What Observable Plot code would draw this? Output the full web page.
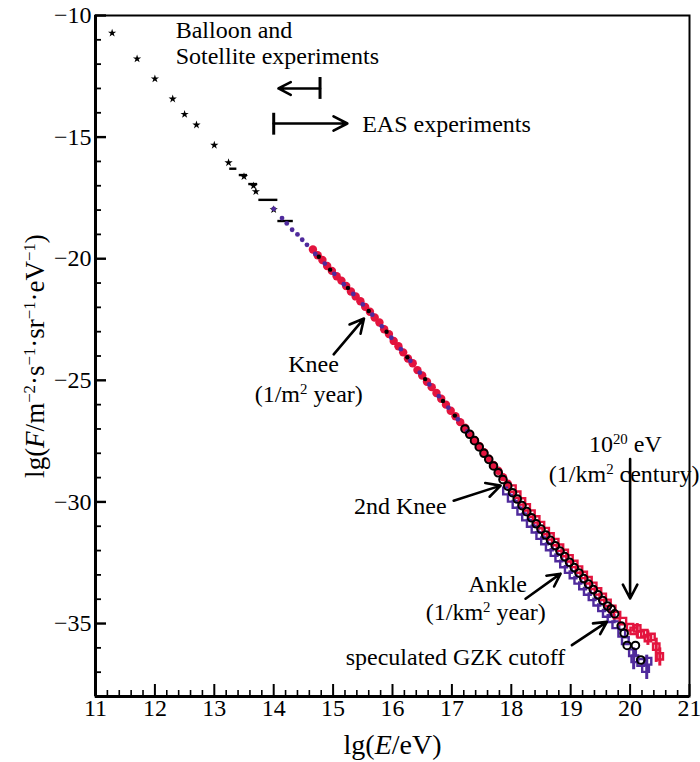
<!DOCTYPE html>
<html><head><meta charset="utf-8">
<script src="https://cdn.jsdelivr.net/npm/d3@7"></script>
<script src="https://cdn.jsdelivr.net/npm/@observablehq/plot@0.6"></script>
<style>body{margin:0;background:#fff}#chart svg{display:block}</style>
</head><body><div id="chart"></div>
<script>
// ---- axes ----
const xDomain = [11, 21];
const yDomain = [-38, -10];
const xMajor = [11, 12, 13, 14, 15, 16, 17, 18, 19, 20, 21];
const xMinor = [11.2,11.4,11.6,11.8,12.2,12.4,12.6,12.8,13.2,13.4,13.6,13.8,14.2,14.4,14.6,14.8,15.2,15.4,15.6,15.8,16.2,16.4,16.6,16.8,17.2,17.4,17.6,17.8,18.2,18.4,18.6,18.8,19.2,19.4,19.6,19.8,20.2,20.4,20.6,20.8];
const yMajor = [-10, -15, -20, -25, -30, -35];
const yMinor = [-11,-12,-13,-14,-16,-17,-18,-19,-21,-22,-23,-24,-26,-27,-28,-29,-31,-32,-33,-34,-36,-37];

// ---- low energy (balloon / satellite) black stars ----
const starX = [11.28, 11.70, 12.00, 12.30, 12.50, 12.70, 13.00, 13.24, 13.50, 13.66, 13.70, 14.00];
const starY = [-10.72, -11.78, -12.60, -13.43, -14.06, -14.50, -15.33, -16.05, -16.62, -17.00, -17.24, -17.98];

// horizontal black bars
const barX1 = [13.26, 13.42, 13.58, 13.75, 14.07];
const barX2 = [13.38, 13.56, 13.73, 14.07, 14.33];
const barY  = [-16.30, -16.56, -16.93, -17.58, -18.45];

// ---- red dots (knee region) ----
const redDotX = [14.66,14.74,14.82,14.90,14.98,15.06,15.14,15.22,15.30,15.38,15.46,15.54,15.62,15.70,15.78,15.86,15.94,16.02,16.10,16.18,16.26,16.34,16.42,16.50,16.58,16.66,16.74,16.82,16.90,16.98,17.06,17.14,17.22,17.30,17.38,17.46,17.54,17.62,17.70,17.78,17.86,17.94];
const redDotY = [-19.62,-19.86,-20.05,-20.30,-20.50,-20.72,-20.90,-21.12,-21.35,-21.55,-21.75,-21.98,-22.18,-22.42,-22.62,-22.90,-23.10,-23.38,-23.60,-23.85,-24.10,-24.30,-24.58,-24.80,-25.06,-25.28,-25.52,-25.76,-26.00,-26.25,-26.48,-26.72,-26.95,-27.20,-27.45,-27.70,-27.96,-28.22,-28.48,-28.72,-28.98,-29.25];

// ---- red squares (ankle region and beyond) ----
const redSqX = [18.02,18.10,18.18,18.26,18.34,18.42,18.50,18.58,18.66,18.74,18.82,18.90,18.98,19.06,19.14,19.22,19.30,19.38,19.46,19.54,19.62,19.70,19.78,19.88,20.00,20.06,20.12,20.18,20.24,20.30,20.36,20.44,20.50];
const redSqY = [-29.45,-29.70,-29.98,-30.22,-30.48,-30.72,-30.95,-31.20,-31.42,-31.65,-31.88,-32.10,-32.32,-32.55,-32.78,-33.00,-33.22,-33.45,-33.68,-33.90,-34.15,-34.40,-34.65,-34.90,-35.15,-35.30,-35.20,-35.45,-35.40,-35.60,-35.55,-35.95,-36.35];
const redErrX  = [20.12, 20.30, 20.44, 20.50];
const redErrLo = [-35.60, -35.90, -36.60, -36.75];
const redErrHi = [-35.00, -35.30, -35.60, -36.00];

// ---- purple dots (knee region) ----
const purDotX = [14.00,14.14,14.22,14.31,14.40,14.48,14.56,14.70,14.86,15.02,15.18,15.34,15.50,15.66,15.82,15.98,16.14,16.30,16.46,16.62,16.78,16.94,17.10,17.26];
const purDotY = [-17.95,-18.33,-18.55,-18.81,-19.00,-19.22,-19.43,-19.80,-20.20,-20.62,-21.05,-21.45,-21.88,-22.30,-22.78,-23.25,-23.72,-24.20,-24.68,-25.17,-25.65,-26.12,-26.60,-27.10];

// ---- purple squares ----
const purSqX = [17.92,18.00,18.08,18.16,18.24,18.32,18.40,18.48,18.56,18.64,18.72,18.80,18.88,18.96,19.04,19.12,19.20,19.28,19.36,19.44,19.52,19.60,19.68,19.76,19.86,19.92,20.04,20.08,20.18,20.26,20.30];
const purSqY = [-29.55,-29.85,-30.10,-30.38,-30.62,-30.88,-31.12,-31.38,-31.60,-31.85,-32.08,-32.30,-32.55,-32.78,-33.00,-33.22,-33.45,-33.68,-33.90,-34.12,-34.35,-34.58,-34.80,-35.05,-35.40,-35.70,-36.20,-36.45,-36.60,-36.85,-36.55];
const purErrX  = [20.06, 20.28];
const purErrLo = [-36.90, -37.30];
const purErrHi = [-36.00, -36.30];

// ---- black small dots (knee region) ----
const blkDotX = [14.76, 14.95, 15.25, 15.60, 15.90, 16.25, 16.55, 16.85, 17.05];
const blkDotY = [-19.92, -20.45, -21.20, -22.15, -23.00, -24.05, -24.95, -25.85, -26.45];

// ---- black open circles ----
const blkCircX = [17.22,17.30,17.38,17.46,17.54,17.62,17.70,17.78,17.86,17.94,18.02,18.10,18.18,18.26,18.34,18.42,18.50,18.58,18.66,18.74,18.82,18.90,18.98,19.06,19.14,19.22,19.30,19.38,19.46,19.54,19.62,19.68,19.74,19.85,19.90,19.95,20.09,20.18];
const blkCircY = [-27.00,-27.22,-27.48,-27.74,-28.00,-28.25,-28.52,-28.80,-29.08,-29.35,-29.62,-29.88,-30.15,-30.40,-30.65,-30.90,-31.12,-31.36,-31.58,-31.80,-32.02,-32.25,-32.48,-32.70,-32.92,-33.15,-33.38,-33.60,-33.82,-34.05,-34.28,-34.40,-34.60,-35.10,-35.40,-35.90,-35.90,-36.50];

// ---- annotations ----
const labelText = ["Balloon and", "Sotellite experiments", "EAS experiments", "Knee", "(1/m^{2} year)", "10^{20} eV", "(1/km^{2} century)", "2nd Knee", "Ankle", "(1/km^{2} year)", "speculated GZK cutoff"];
const labelX = [12.35, 12.35, 15.49, 14.67, 14.59, 19.92, 19.90, 16.13, 17.77, 17.57, 17.06];
const labelY = [-10.62, -11.68, -14.48, -24.34, -25.57, -27.62, -28.85, -30.16, -33.40, -34.55, -36.39];
const labelAnchor = ["start", "start", "start", "middle", "middle", "middle", "middle", "middle", "middle", "middle", "middle"];

const arrowX1 = [14.78, 14.00, 15.01, 20.00, 17.03, 18.24, 19.02];
const arrowY1 = [-13.00, -14.44, -23.93, -28.24, -29.95, -33.98, -35.89];
const arrowX2 = [14.08, 15.24, 15.52, 20.00, 17.82, 18.83, 19.61];
const arrowY2 = [-13.00, -14.44, -22.46, -33.97, -29.33, -32.95, -34.93];
const tailBarX = [14.78, 14.00];
const tailBarLo = [-13.45, -14.92];
const tailBarHi = [-12.55, -14.02];

// ---- tables ----
const zip = (xs, ys) => xs.map((x, i) => ({x, y: ys[i]}));
const stars = zip(starX, starY);
const bars = barX1.map((x1, i) => ({x1, x2: barX2[i], y: barY[i]}));
const redDots = zip(redDotX, redDotY);
const redSq = zip(redSqX, redSqY);
const redErr = redErrX.map((x, i) => ({x, y1: redErrLo[i], y2: redErrHi[i]}));
const purDots = zip(purDotX, purDotY);
const purSq = zip(purSqX, purSqY);
const purErr = purErrX.map((x, i) => ({x, y1: purErrLo[i], y2: purErrHi[i]}));
const blkDots = zip(blkDotX, blkDotY);
const blkCirc = zip(blkCircX, blkCircY);
const labels = labelText.map((t, i) => ({t, x: labelX[i], y: labelY[i], a: labelAnchor[i]}));
const arrows = arrowX1.map((x1, i) => ({x1, y1: arrowY1[i], x2: arrowX2[i], y2: arrowY2[i]}));
const tailBars = tailBarX.map((x, i) => ({x, y1: tailBarLo[i], y2: tailBarHi[i]}));

const RED = "#e3143e", PUR = "#4f2a9c";
const W = 700, H = 762, ML = 95, MR = 11, MT = 15, MB = 66;
const PW = W - ML - MR, PH = H - MT - MB;
const FONT = "Liberation Serif";

const plot = Plot.plot({
  width: W, height: H,
  marginLeft: ML, marginRight: MR, marginTop: MT, marginBottom: MB,
  style: {fontFamily: FONT, fontSize: "24px", color: "black", background: "white"},
  x: {domain: xDomain},
  y: {domain: yDomain},
  marks: [
    // axes labels
    Plot.axisX({ticks: xMajor, tickSize: 0, tickPadding: 2, fontSize: 24, label: null}),
    Plot.axisY({ticks: yMajor, tickSize: 0, tickPadding: 4, fontSize: 24, label: null}),
    // inward ticks
    Plot.ruleX(xMajor, {insetTop: PH - 12, strokeWidth: 2}),
    Plot.ruleX(xMinor, {insetTop: PH - 6, strokeWidth: 1.6}),
    Plot.ruleY(yMajor, {insetRight: PW - 11, strokeWidth: 2.4}),
    Plot.ruleY(yMinor, {insetRight: PW - 6, strokeWidth: 1.8}),
    Plot.frame({strokeWidth: 2}),
    Plot.ruleX([xDomain[0]], {strokeWidth: 3}),
    Plot.ruleY([yDomain[0]], {strokeWidth: 3}),
    // data
    Plot.dot(stars, {x: "x", y: "y", symbol: "star", r: 2.6, fill: "black"}),
    Plot.ruleY(bars, {x1: "x1", x2: "x2", y: "y", strokeWidth: 2.4}),
    Plot.dot(redDots, {x: "x", y: "y", r: 4.2, fill: RED}),
    Plot.dot(purDots, {x: "x", y: "y", r: 2.4, fill: PUR}),
    Plot.dot(blkDots, {x: "x", y: "y", r: 2.2, fill: "black"}),
    Plot.ruleX(purErr, {x: "x", y1: "y1", y2: "y2", stroke: PUR, strokeWidth: 3}),
    Plot.ruleX(redErr, {x: "x", y1: "y1", y2: "y2", stroke: RED, strokeWidth: 3}),
    Plot.dot(purSq, {x: "x", y: "y", symbol: "square", r: 3.8, stroke: PUR, strokeWidth: 2.4, fill: "none"}),
    Plot.dot(redSq, {x: "x", y: "y", symbol: "square", r: 3.6, stroke: RED, strokeWidth: 2.4, fill: "none"}),
    Plot.dot(blkCirc, {x: "x", y: "y", r: 3.8, stroke: "black", strokeWidth: 2, fill: "none"}),
    // annotations
    Plot.ruleX(tailBars, {x: "x", y1: "y1", y2: "y2", strokeWidth: 3}),
    Plot.arrow(arrows, {x1: "x1", y1: "y1", x2: "x2", y2: "y2", strokeWidth: 2.6, headLength: 9, headAngle: 55}),
    Plot.text(labels.filter(d => d.a === "start"), {x: "x", y: "y", text: "t", textAnchor: "start", fontSize: 24, fill: "black"}),
    Plot.text(labels.filter(d => d.a === "middle"), {x: "x", y: "y", text: "t", textAnchor: "middle", fontSize: 24, fill: "black"}),
    Plot.text(["lg(*{E}/eV)"], {frameAnchor: "bottom", dy: 49, lineAnchor: "middle", textAnchor: "middle", fontSize: 28, fill: "black"}),
    Plot.text(["lg(*{F}/m^{−2}·s^{−1}·sr^{−1}·eV^{−1})"], {frameAnchor: "left", rotate: -90, dx: -60, lineAnchor: "middle", textAnchor: "middle", fontSize: 27, fill: "black"})
  ]
});

// rich text: ^{..} superscript, *{..} italic
const NS = "http://www.w3.org/2000/svg";
plot.querySelectorAll("text").forEach(el => {
  const s = el.textContent;
  if (!/[\^\*]\{/.test(s)) return;
  while (el.firstChild) el.removeChild(el.firstChild);
  s.split(/(\^\{[^}]*\}|\*\{[^}]*\})/g).forEach(part => {
    if (!part) return;
    const t = document.createElementNS(NS, "tspan");
    if (part.startsWith("^{")) {
      t.textContent = part.slice(2, -1);
      t.setAttribute("baseline-shift", "super");
      t.setAttribute("font-size", "0.62em");
    } else if (part.startsWith("*{")) {
      t.textContent = part.slice(2, -1);
      t.setAttribute("font-style", "italic");
    } else t.textContent = part;
    el.appendChild(t);
  });
});
document.getElementById("chart").appendChild(plot);
</script>
</body></html>
